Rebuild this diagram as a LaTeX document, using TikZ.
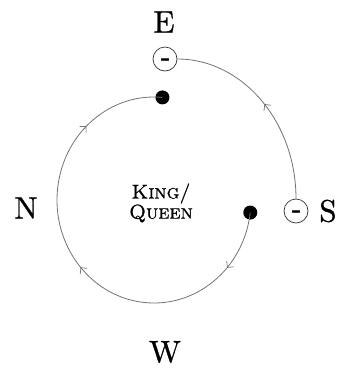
\documentclass[tikz,border=0pt]{standalone}
\usepackage{fontspec}
\newfontfamily\compassfont{lmroman10-regular.otf}[FakeBold=0.9]
\newfontfamily\kqfont{lmroman10-regular.otf}[FakeBold=0.9,
  SmallCapsFont=lmromancaps10-regular.otf, SmallCapsFeatures={FakeBold=0.9}]
\newfontfamily\minusfont{DejaVu Sans}
\usetikzlibrary{arrows.meta,decorations.markings,calc}
\tikzset{tipmark/.tip={Straight Barb[length=4.5pt,width=9pt,line width=0.7pt]}}
\begin{document}
\begin{tikzpicture}[x=1pt,y=-1pt,
  pathline/.style={draw=black!55, line width=0.8pt},
  minuscircle/.style={circle, draw=black!80, line width=0.7pt, minimum size=24pt, inner sep=0pt,
    text height=0pt, text depth=0pt, font=\minusfont\bfseries\fontsize{20}{20}\selectfont},
  dotnode/.style={circle, fill=black, minimum size=14pt, inner sep=0pt},
  compass/.style={font=\compassfont\fontsize{31}{31}\selectfont, inner sep=0pt}]
\useasboundingbox (0,0) rectangle (343,373);
% compass letters
\node[compass] (lE) at (164,22) {E};
\node[compass] (lN) at (26,208) {N};
\node[compass] (lS) at (328,211) {S};
\node[compass] (lW) at (165,352) {W};
% circled minus signs
\node[minuscircle] (cE) at (165,59) {\raisebox{-0.31em}{–}};
\node[minuscircle] (cS) at (296,211) {\raisebox{-0.31em}{–}};
% centre label
\node[font=\kqfont\scshape\fontsize{20}{15}\selectfont, align=center, inner sep=0pt] (kq) at (161,203) {King/\\Queen};
% dots
\coordinate (ctr) at (154,200);
\node[dotnode] (dR) at ($(ctr)+(7:97 and 103)$) {};
\node[dotnode] (dT) at ($(ctr)+(275:97 and 103)$) {};
% outer arc from S to E
\draw[pathline, postaction={decorate}, decoration={markings, mark=at position 0.5 with {\arrow{tipmark}}}]
  (cS.north) .. controls +(0,-77) and +(65,0) .. (cE.east);
% inner spiral from right dot to top dot
\draw[pathline, postaction={decorate}, decoration={markings,
    mark=at position 0.13 with {\arrow{tipmark}},
    mark=at position 0.49 with {\arrow{tipmark}},
    mark=at position 0.82 with {\arrow{tipmark}}}]
  (dR.center) arc[start angle=7, end angle=275, x radius=97, y radius=103];
\end{tikzpicture}
\end{document}
